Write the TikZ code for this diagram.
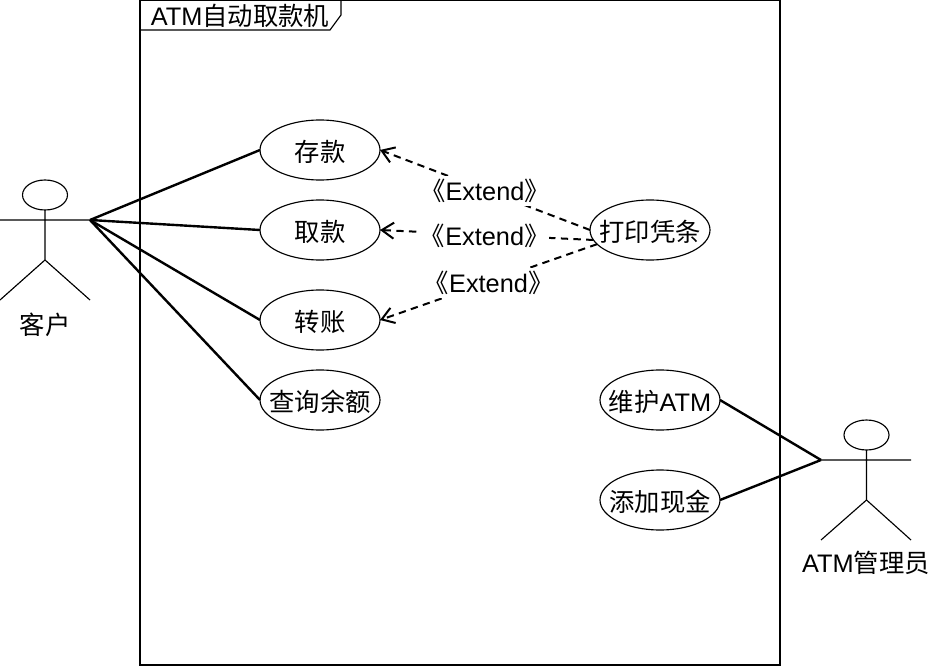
\documentclass[tikz,border=0pt]{standalone}
\usepackage{fontspec}
\setmainfont{Liberation Sans}
\newfontfamily\cjk{Noto Sans CJK SC}
\usetikzlibrary{shapes.geometric}
\usetikzlibrary{positioning}
\usetikzlibrary{arrows.meta}
\newcommand{\ucase}[1]{\makebox[0pt]{\raisebox{0pt}[17pt][0pt]{#1}}}

\begin{document}
\begin{tikzpicture}[
x=0.75pt, y=-0.75pt,
>={Straight Barb[length=9pt,width=12pt]},
font=\fontsize{19}{21}\selectfont,
thin line/.style={line width=0.85pt},
assoc/.style={line width=1.8pt},
extend/.style={->,line width=1.5pt,dash pattern=on 5.5pt off 4pt},
extlabel/.style={fill=white,inner sep=0pt,minimum height=22pt,yshift=-0.8pt},
usecase/.style={ellipse,draw,thin line,minimum width=90pt,minimum height=45pt,inner sep=0pt,outer sep=0pt},
head/.style={ellipse,draw,thin line,minimum width=33.75pt,minimum height=22.5pt,inner sep=0pt,outer sep=0pt}]
\useasboundingbox (0,0) rectangle (930,666);
% system frame
\node [rectangle,draw,thin line,minimum width=480pt,minimum height=498.75pt] (frame) at (460,332.5) {};
\draw [thin line] (140,30) -- (330,30) -- (341,15) -- (341,0);
\node (title) at (240,16) {ATM{\cjk 自动取款机}};
% use cases
\node [usecase] (deposit) at (320,150) {\ucase{\cjk 存款}};
\node [usecase] (withdraw) [below=15pt of deposit] {\ucase{\cjk 取款}};
\node [usecase] (transfer) [below=22.5pt of withdraw] {\ucase{\cjk 转账}};
\node [usecase] (query) [below=15pt of transfer] {\ucase{\cjk 查询余额}};
\node [usecase] (print) at (650,230) {\ucase{\cjk 打印凭条}};
\node [usecase] (maintain) at (660,400) {\ucase{{\cjk 维护}ATM}};
\node [usecase] (refill) [below=30pt of maintain] {\ucase{\cjk 添加现金}};
% customer
\node [head] (chead) at (45,195) {};
\coordinate (carml) at (0,220);
\coordinate (carmr) at (90,220);
\coordinate (chip) at (45,260);
\coordinate (clegl) at (0,300);
\coordinate (clegr) at (90,300);
\draw [thin line] (chead) -- (chip) (carml) -- (carmr) (clegl) -- (chip) -- (clegr);
\node (customer) at (45,324.5) {\cjk 客户};
% admin
\node [head] (ahead) at (866.5,435) {};
\coordinate (aarml) at (821,460);
\coordinate (aarmr) at (911,460);
\coordinate (ahip) at (866.5,500);
\coordinate (alegl) at (821,540);
\coordinate (alegr) at (911,540);
\draw [thin line] (ahead) -- (ahip) (aarml) -- (aarmr) (alegl) -- (ahip) -- (alegr);
\node (admin) at (866,563) {ATM{\cjk 管理员}};
% associations
\foreach \uc in {deposit,withdraw,transfer,query}
  \draw [assoc] (carmr) -- (\uc.west);
\draw [assoc] (aarml) -- (maintain.east);
\draw [assoc] (aarml) -- (refill.east);
% extends
\draw [extend] (print.west) -- node [extlabel] (ext1) {{\cjk 《}Extend{\cjk 》}} (deposit.east);
\draw [extend] (print.190) -- node [extlabel,xshift=-1.5pt] (ext2) {{\cjk 《}Extend{\cjk 》}} (withdraw.east);
\draw [extend] (print.195) -- node [extlabel] (ext3) {{\cjk 《}Extend{\cjk 》}} (transfer.east);
\end{tikzpicture}
\end{document}
